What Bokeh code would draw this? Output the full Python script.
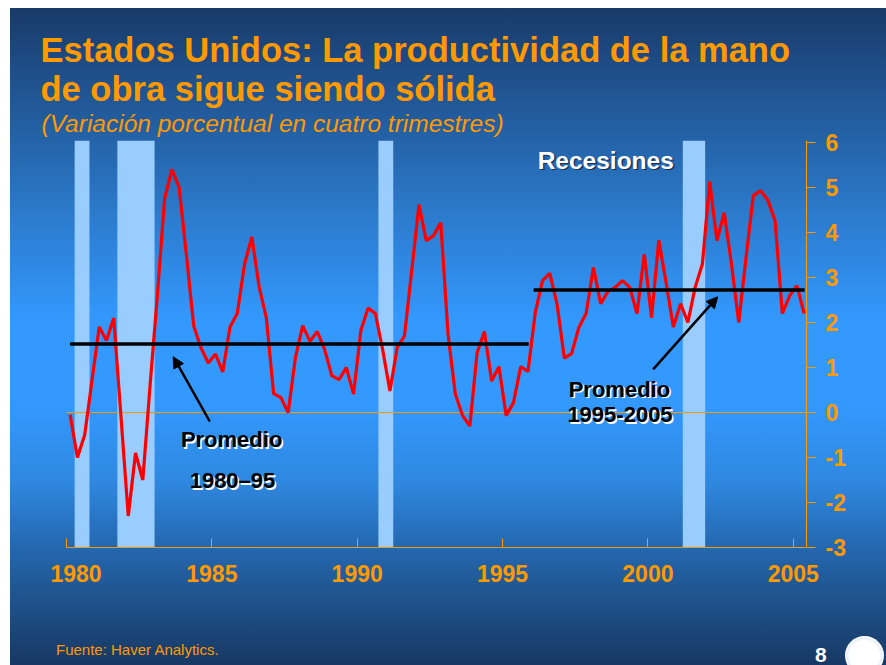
from bokeh.plotting import figure
from bokeh.layouts import column
from bokeh.models import (Range1d, LinearAxis, FixedTicker, Label, Arrow,
                          NormalHead, Div)
from bokeh.embed import file_html
from bokeh.resources import INLINE

# ---------------- data ----------------
quarters = [f"{1980 + i // 4}Q{i % 4 + 1}" for i in range(102)]   # 1980Q1 .. 2005Q2
productivity = [
    -0.05, -1.0, -0.5, 0.7, 1.9, 1.6, 2.1, -0.1, -2.3, -0.9, -1.5, 0.6,
    2.6, 4.75, 5.4, 5.0, 3.5, 1.93, 1.44, 1.1, 1.3, 0.9, 1.9, 2.2,
    3.3, 3.9, 2.8, 2.1, 0.42, 0.33, 0.0, 1.22, 1.93, 1.58, 1.8, 1.41,
    0.82, 0.73, 1.0, 0.41, 1.82, 2.32, 2.2, 1.4, 0.48, 1.44, 1.7, 3.15,
    4.62, 3.82, 3.93, 4.22, 1.74, 0.41, -0.07, -0.3, 1.33, 1.8, 0.7, 1.02,
    -0.07, 0.22, 1.02, 0.91, 2.22, 2.93, 3.09, 2.41, 1.21, 1.31, 1.89, 2.2,
    3.22, 2.42, 2.69, 2.78, 2.93, 2.78, 2.2, 3.52, 2.11, 3.83, 2.89, 1.9,
    2.42, 2.0, 2.78, 3.3, 5.13, 3.82, 4.44, 3.3, 2.0, 3.44, 4.82, 4.93,
    4.72, 4.26, 2.2, 2.59, 2.82, 2.2,
]
recession_start = [1980.28, 1981.75, 1990.73, 2001.20]
recession_end = [1980.79, 1983.03, 1991.24, 2001.97]
average_start = [1980.12, 1996.07]
average_end = [1995.90, 2005.39]
average_value = [1.52, 2.72]
year_ticks = [1980, 1985, 1990, 1995, 2000, 2005]
value_ticks = [-3, -2, -1, 0, 1, 2, 3, 4, 5, 6]

# ---------------- styling ----------------
ORANGE = "#ff9900"
FONT = "Liberation Sans"
X_FIRST, X_LAST = 1980, 2005.456      # extent of the chart's axes
Y_MIN, Y_TOP = -3, 6.04
PX_PER_YEAR, PX_PER_UNIT = 29.07, 45.0
FRAME_W, FRAME_H = 806, 547
CHART_LEFT = 66
BASE_FIX = 0.35     # label baseline correction, in em

x_pos = [int(q[:4]) + (int(q[-1]) - 0.5) / 4 for q in quarters]

x_range = Range1d(X_FIRST - CHART_LEFT / PX_PER_YEAR, X_FIRST + (FRAME_W - CHART_LEFT) / PX_PER_YEAR)
y_range = Range1d(Y_MIN, Y_MIN + FRAME_H / PX_PER_UNIT)

p = figure(frame_width=FRAME_W, frame_height=FRAME_H,
           min_border_left=0, min_border_right=80,
           min_border_top=0, min_border_bottom=48,
           x_range=x_range, y_range=y_range,
           x_axis_location=None, y_axis_location=None,
           output_backend="svg", toolbar_location=None)
p.background_fill_alpha = 0
p.border_fill_alpha = 0
p.outline_line_color = None
p.grid.visible = False

# recession bands
p.quad(left=recession_start, right=recession_end, bottom=Y_MIN, top=Y_TOP,
       fill_color="#99ccff", line_color=None)

# zero line across the chart
p.segment(x0=[X_FIRST], x1=[X_LAST], y0=[0], y1=[0], line_color=ORANGE, line_width=1)

# series
p.line(x_pos, productivity, line_color="#ff0000", line_width=3.2)

# averages
p.segment(x0=average_start, x1=average_end, y0=average_value, y1=average_value,
          line_color="black", line_width=3.5)

# axes
xa = LinearAxis(ticker=FixedTicker(ticks=year_ticks), bounds=(X_FIRST, X_LAST))
ya = LinearAxis(ticker=FixedTicker(ticks=value_ticks), bounds=(Y_MIN, Y_TOP))
for ax in (xa, ya):
    ax.axis_line_color = ORANGE
    ax.major_tick_line_color = ORANGE
    ax.minor_tick_line_color = None
    ax.major_label_text_color = ORANGE
    ax.major_label_text_font = FONT
    ax.major_label_text_font_style = "bold"
    ax.major_label_text_font_size = "23px"
xa.major_tick_in = 9
xa.major_tick_out = 0
xa.major_label_standoff = 13
xa.major_label_overrides = {year_ticks[0]: "\u00a0\u00a0\u00a0" + str(year_ticks[0])}
ya.major_tick_in = 0
ya.major_tick_out = 9
ya.major_label_standoff = 10
ya.major_label_overrides = {t: str(t) for t in value_ticks}
p.add_layout(xa, "below")
p.add_layout(ya, "right")

# arrows
head = dict(size=11, fill_color="black", line_color="black", line_width=1)
p.add_layout(Arrow(end=NormalHead(**head), x_start=1984.93, y_start=-0.2,
                   x_end=1983.67, y_end=1.24, line_color="black", line_width=2.5))
p.add_layout(Arrow(end=NormalHead(**head), x_start=2000.18, y_start=0.96,
                   x_end=2002.40, y_end=2.57, line_color="black", line_width=2.5))


def shadow_label(text, x, y, color, shadow, size, dx=1.5, dy=-1.5):
    fix = BASE_FIX * size
    common = dict(x=x, y=y, text=text, text_font=FONT, text_font_style="bold",
                  text_font_size=f"{size}px", text_align="center",
                  text_baseline="alphabetic")
    p.add_layout(Label(text_color=shadow, x_offset=dx, y_offset=dy + fix, **common))
    p.add_layout(Label(text_color=color, y_offset=fix, **common))


shadow_label("Recesiones", 1998.55, 5.41, "white", "#1a3050", 24.5)
shadow_label("Promedio", 1985.68, -0.78, "black", "white", 22)
shadow_label("1980–95", 1985.71, -1.69, "black", "white", 22)
shadow_label("Promedio", 1999.02, 0.35, "black", "white", 22)
shadow_label("1995-2005", 1999.04, -0.22, "black", "white", 22)


def screen_label(text, sx, baseline_px, color, size, style="bold"):
    p.add_layout(Label(x=sx, y=FRAME_H - baseline_px, x_units="screen", y_units="screen",
                       y_offset=BASE_FIX * size, text=text,
                       text_color=color, text_font=FONT, text_font_style=style,
                       text_font_size=f"{size}px", text_align="left",
                       text_baseline="alphabetic"))


# titles
screen_label("Estados Unidos: La productividad de la mano", 40, 62, ORANGE, 34.5)
screen_label("de obra sigue siendo sólida", 40, 101, ORANGE, 34.5)
screen_label("(Variación porcentual en cuatro trimestres)", 41, 132, ORANGE, 24.5, "italic")

# footer strip (source note, page number, seal)
FOOT_H = 70
footer_html = (
    '<div style="position:relative;width:886px;height:70px;overflow:hidden;">'
    '<span style="position:absolute;left:56px;top:46px;white-space:nowrap;'
    "font:15px 'Liberation Sans';color:#ff9900;line-height:17px;\">Fuente: Haver Analytics.</span>"
    '<span style="position:absolute;left:815px;top:48px;'
    "font:bold 21px 'Liberation Sans';color:#ffffff;line-height:24px;\">8</span>"
    '<div style="position:absolute;left:845px;top:41px;width:39px;height:39px;'
    'border-radius:50%;background:radial-gradient(circle, #ffffff 0%, #ffffff 55%, '
    '#e8eef6 62%, #ffffff 70%, #ffffff 100%);"></div>'
    '</div>'
)
footer = Div(text=footer_html, width=886, height=FOOT_H, margin=0)

layout = column(p, footer, spacing=0)
grad = ("linear-gradient(to bottom, #183a68 0%, #1f4f8a 10%, #2463a8 20%, #2b78c8 30%, "
        "#3399ff 48%, #3399ff 60%, #2f88e0 72%, #2468b0 82%, #1e5088 91%, #173864 100%)")
layout.styles = {"background": f"{grad} 10px 8px / calc(100% - 10px) calc(100% - 8px) no-repeat, #ffffff"}

open("out.html", "w").write(file_html(layout, INLINE))
